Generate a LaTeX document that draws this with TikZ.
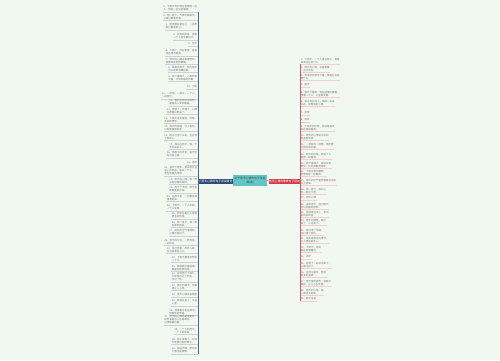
\documentclass[tikz,border=0pt]{standalone}
\usepackage{fontspec}
\newfontfamily\cjk{Noto Sans CJK SC}
\definecolor{bg}{HTML}{F1F8EF}
\definecolor{teal}{HTML}{62C6C6}
\definecolor{lblue}{HTML}{2E4B78}
\definecolor{rred}{HTML}{D43C48}
\definecolor{leaftxt}{HTML}{7A7A7A}
\tikzset{
  leafbase/.style={font=\cjk\fontsize{2.5}{3.0}\selectfont, text=leaftxt, inner sep=0.6pt, align=left},
  lleaf/.style={leafbase, anchor=east},
  rleaf/.style={leafbase, anchor=west},
  lconn/.style={draw=lblue!85, line width=0.6pt},
  rconn/.style={draw=rred!85, line width=0.6pt},
  lunder/.style={draw=lblue!25, line width=0.3pt},
  runder/.style={draw=rred!25, line width=0.3pt},
  hubbox/.style={font=\cjk\fontsize{2.8}{3.4}\selectfont, inner sep=1pt, align=center},
}
\begin{document}
\begin{tikzpicture}[x=1pt,y=-1pt]
\fill[bg] (0,0) rectangle (500,360);
\useasboundingbox (0,0) rectangle (500,360);

\node[hubbox, fill=teal, text=black!75, minimum width=34pt, minimum height=11pt] (c) at (250,180.5) {关于雨天心情的句子说说\\（精选）};
\node[hubbox, fill=lblue, text=white, minimum width=31pt, minimum height=5pt, inner sep=0.5pt] (ln) at (215.5,181) {下雨天心情的句子说说精选};
\node[hubbox, fill=rred, text=white, minimum width=31pt, minimum height=5pt, inner sep=0.5pt] (rn) at (284.5,181) {雨天心情的唯美句子说说};
\draw[lconn] (c.west) -- (ln.east);
\draw[rconn] (c.east) -- (rn.west);

% left leaves
\foreach \i/\y/\t in {
1/8.5/{1、下雨天的时候总会想起一些\\人，想起一些旧的事情。},
2/17/{2、雨一直下，气氛不算融洽，\\心情也跟着低落。},
3/26.5/{3、雨滴落在窗台上，一声声\\敲打着我的心。},
4/36.5/{4、听雨的声音，感受\\一个人的安静时光。},
5/44/{5、雨天},
6/52.5/{6、下雨了，你在哪里，是否\\也在想念着我。},
7/61/{7、雨天的心情总是潮湿的，\\就像我此刻的眼睛。},
8/69/{8、我喜欢雨天，因为雨天\\可以把眼泪藏起来。},
9/78/{9、雨下得很大，心里却很\\平静，只想安静地待着。},
10/87/{10、下雨},
11/95.5/{11、一场雨，一把伞，一个人，\\一段回忆。},
12/102.5/{12、窗外的雨淅淅沥沥，\\屋里的人安安静静。},
13/111/{13、雨停了，天晴了，心情\\也跟着好起来了。},
14/120/{14、下雨天适合睡觉、听歌、\\发呆和想你。},
15/128/{15、雨天的街道，行人匆匆，\\只有我慢慢地走。},
16/137/{16、雨水打湿了头发，也打湿\\了我的心。},
17/146/{17、我站在雨中，等一个\\不会来的人。},
18/154.5/{18、雨落下的声音，是天空\\在诉说心事。},
19/163/{19、雨声},
20/171/{20、喜欢下雨天，喜欢雨打在\\伞上的声音，喜欢一个人\\走在雨里的感觉。},
21/181/{21、雨天的心情，像一杯\\没有加糖的咖啡。},
22/189.5/{22、雨下个不停，思念也\\跟着蔓延开来。},
23/198/{23、在雨天里，一切都变得\\温柔起来。},
24/207.5/{24、下雨天，一个人听歌，\\一个人发呆。},
25/215.5/{25、雨天总是让人感到\\莫名的伤感。},
26/224/{26、雨一直下，我一直\\在等你回来。},
27/232.5/{27、雨后的空气很清新，\\心情也变好了。},
28/242/{28、雨天的午后，一杯热茶，\\一本好书。},
29/250/{29、雨打芭蕉，声声入耳，\\点点滴滴在心头。},
30/259/{30、下雨天最适合想念\\一个人。},
31/268/{31、雨滴敲打着玻璃，\\像是在和我说话。},
32/277/{32、这场雨下了很久，\\久到我忘记了时间，\\忘记了你。},
33/287/{33、雨天的城市，安静\\得让人心疼。},
34/295/{34、雨天心情说说精选},
35/302.5/{35、雨落在身上，冷在\\心里。},
36/312/{36、我撑着伞走在雨中，\\想着你的笑容。},
37/320/{37、雨天的心情总是很复杂，\\说不清是开心还是难过，\\只想静静待着。},
38/331/{38、一个人的雨天，\\一个人的孤单。},
39/341/{39、雨下得再大，也冲\\不走我对你的思念。},
40/350.5/{40、雨过天晴，愿你的\\心情也能放晴。}}{
  \node[lleaf] (L\i) at (198,\y) {\t};
  \draw[lunder] (L\i.south west) -- (L\i.south east);
  \draw[lconn] (ln.west) -- (198,181) |- (L\i.south east);
}

% right leaves
\foreach \i/\y/\t in {
1/61/{1、下雨天，一个人走在街上，看着\\来来往往的行人。},
2/69/{2、雨天的心情，总是带着\\一点点忧伤。},
3/77/{3、雨淅淅沥沥地下着，像是在诉说\\着什么。},
4/85/{4、雨天},
5/94/{5、窗外下着雨，我在屋里听着歌，\\想着一个人，心里很安静。},
6/103/{6、雨水落在地上，溅起一朵朵\\水花，就像我的心情。},
7/113/{7、雨季},
8/120/{8、雨声},
9/128/{9、下雨天的时候，我总是喜欢\\站在窗前看雨。},
10/137/{10、雨天的心情说不出的\\低落和伤感。},
11/146/{11、一场秋雨一场寒，雨天要\\记得多穿衣服。},
12/156/{12、雨天的时候，想找个人\\陪我一起看雨。},
13/165/{13、雨下得很大，我却没有\\带伞，只好淋着雨回家。},
14/173/{14、下雨天和你最配，\\我想和你一起看雨。},
15/182/{15、雨天的空气里弥漫着淡淡的\\泥土香味。},
16/191/{16、雨一直下，我的心\\也一直在下雨。},
17/198/{17、雨天心情},
18/206/{18、喜欢雨天，因为雨天\\可以安静地想你。},
19/214/{19、雨滴落在伞上，发出\\好听的声音。},
20/222/{20、雨天的傍晚，路灯\\亮了，心也亮了。},
21/232/{21、雨打湿了街道，\\也打湿了回忆。},
22/240/{22、雨天是思念的季节，\\让人想起很多人。},
23/249/{23、下雨天，适合\\窝在家里睡觉。},
24/257/{24、雨天},
25/265/{25、雨停了，彩虹出来了，\\心情也好了。},
26/274/{26、在雨中漫步，感受\\雨滴的温柔。},
27/283/{27、雨天里的城市，安静又\\美好，让人心生欢喜。},
28/292/{28、雨天的心情，是\\一首淡淡的歌。},
29/299/{29、雨天说说}}{
  \node[rleaf] (R\i) at (300,\y) {\t};
  \draw[runder] (R\i.south west) -- (R\i.south east);
  \draw[rconn] (rn.east) -- (300,181) |- (R\i.south west);
}
\end{tikzpicture}
\end{document}
